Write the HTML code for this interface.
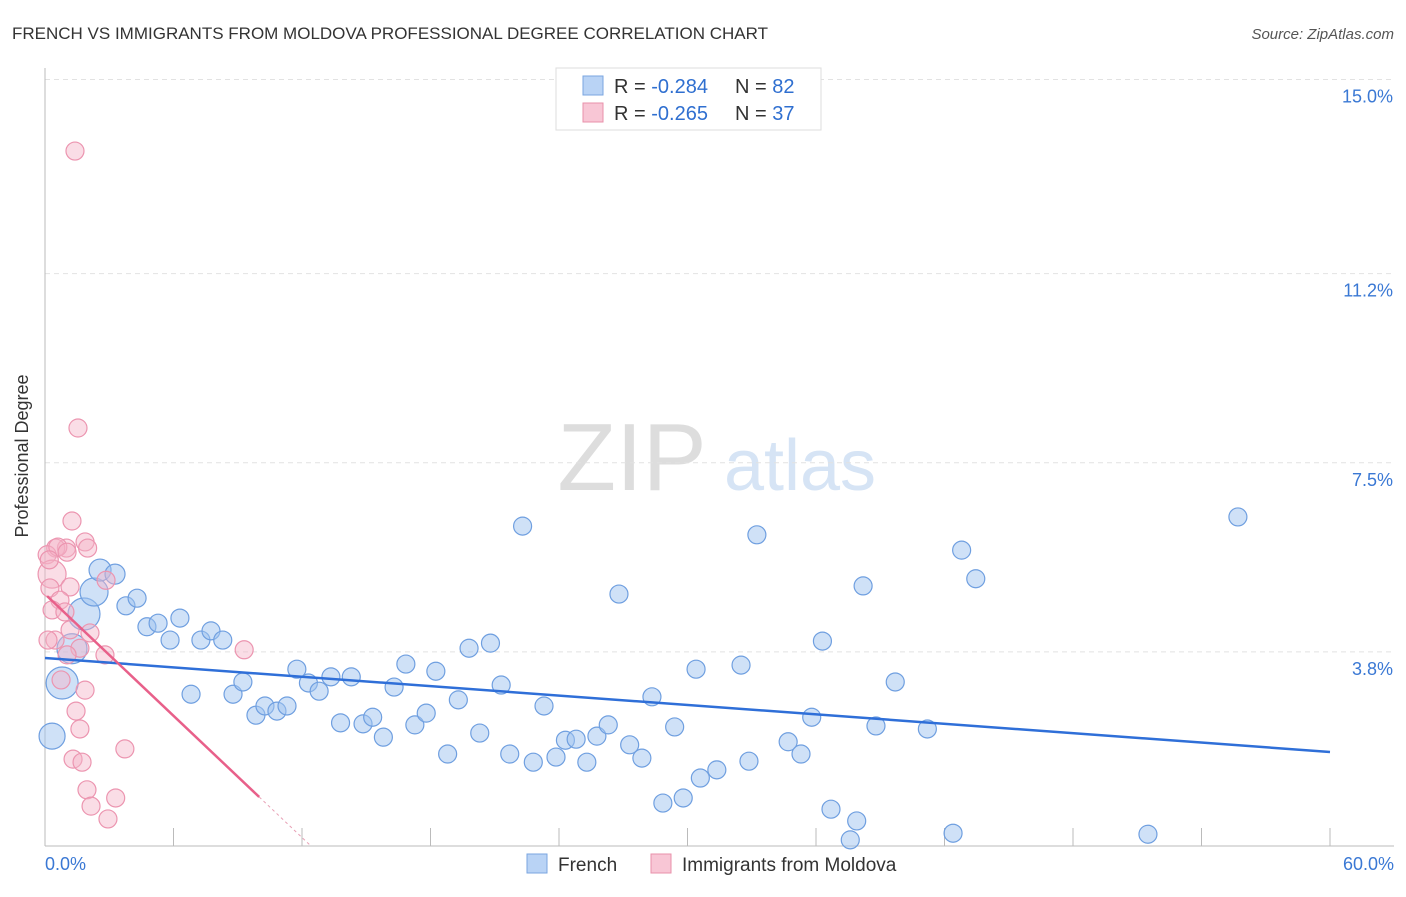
<!DOCTYPE html>
<html><head><meta charset="utf-8"><style>
body{margin:0;background:#fff;font-family:"Liberation Sans",sans-serif;}
svg text{font-family:"Liberation Sans",sans-serif;}
</style></head><body>
<svg width="1406" height="892" id="svg">
<text x="12" y="39" font-size="17" fill="#333">FRENCH VS IMMIGRANTS FROM MOLDOVA PROFESSIONAL DEGREE CORRELATION CHART</text>
<text x="1394" y="39" font-size="15" fill="#555" text-anchor="end" font-style="italic">Source: ZipAtlas.com</text>
<text x="28" y="456" font-size="18" fill="#333" text-anchor="middle" transform="rotate(-90 28 456)">Professional Degree</text>
<g>
<text x="632" y="490" font-size="96" fill="#ddd" font-family="Liberation Serif" text-anchor="middle">ZIP</text>
<text x="800" y="490" font-size="72" fill="#d6e4f5" text-anchor="middle">atlas</text>
</g>
<g id="grid"></g><g id="axes"></g><g id="pts"></g><g id="lines"></g>
<g>
<rect x="556" y="68" width="265" height="62" fill="#fff" stroke="#ddd"/>
<rect x="583" y="76" width="20" height="19" fill="#b9d3f5" stroke="#7aa6e0"/>
<text x="614" y="93" font-size="20" fill="#333">R = <tspan fill="#2f6fd0">-0.284</tspan></text>
<text x="735" y="93" font-size="20" fill="#333">N = <tspan fill="#2f6fd0">82</tspan></text>
<rect x="583" y="103" width="20" height="19" fill="#f8c6d5" stroke="#e890aa"/>
<text x="614" y="120" font-size="20" fill="#333">R = <tspan fill="#2f6fd0">-0.265</tspan></text>
<text x="735" y="120" font-size="20" fill="#333">N = <tspan fill="#2f6fd0">37</tspan></text>
</g>
<g>
<rect x="527" y="854" width="20" height="19" fill="#b9d3f5" stroke="#7aa6e0"/>
<text x="558" y="871" font-size="19" fill="#333">French</text>
<rect x="651" y="854" width="20" height="19" fill="#f8c6d5" stroke="#e890aa"/>
<text x="682" y="871" font-size="19" fill="#333">Immigrants from Moldova</text>
</g>
</svg>
<script>
const yTicks=[15.0,11.2,7.5,3.8];
const yTickLabels=["15.0%","11.2%","7.5%","3.8%"];
const xTicks=[0,6,12,18,24,30,36,42,48,54,60];
const frenchX=[0.33,0.8,1.26,1.82,2.29,2.57,3.27,3.78,4.3,4.76,5.28,5.84,6.3,6.82,7.28,7.75,8.3,8.78,9.24,9.85,10.27,10.83,11.3,11.76,12.3,12.8,13.35,13.8,14.3,14.85,15.3,15.8,16.3,16.85,17.27,17.8,18.25,18.8,19.3,19.8,20.3,20.8,21.3,21.7,22.3,22.8,23.3,23.86,24.3,24.8,25.3,25.77,26.3,26.8,27.3,27.87,28.34,28.85,29.4,29.8,30.4,30.6,31.37,32.5,32.87,33.24,34.7,35.3,35.8,36.3,36.7,37.6,37.9,38.2,38.8,39.7,41.2,42.4,42.8,43.46,51.5,55.7];
const frenchY=[2.15,3.19,3.86,4.54,4.97,5.40,5.32,4.70,4.85,4.29,4.36,4.03,4.46,2.97,4.03,4.21,4.03,2.97,3.21,2.56,2.74,2.64,2.74,3.46,3.19,3.03,3.31,2.41,3.31,2.39,2.52,2.13,3.11,3.56,2.37,2.6,3.42,1.8,2.86,3.87,2.21,3.97,3.15,1.8,6.26,1.64,2.74,1.74,2.07,2.09,1.64,2.15,2.37,4.93,1.98,1.72,2.92,0.84,2.33,0.94,3.46,1.33,1.49,3.54,1.66,6.09,2.04,1.8,2.52,4.01,0.72,0.12,0.49,5.09,2.35,3.21,2.29,0.25,5.79,5.23,0.23,6.44];
const frenchR=[13,16,15,16,14,11,10,9,9,9,9,9,9,9,9,9,9,9,9,9,9,9,9,9,9,9,9,9,9,9,9,9,9,9,9,9,9,9,9,9,9,9,9,9,9,9,9,9,9,9,9,9,9,9,9,9,9,9,9,9,9,9,9,9,9,9,9,9,9,9,9,9,9,9,9,9,9,9,9,9,9,9];
const moldX=[1.4,1.54,1.26,1.87,1.0,0.5,0.1,0.6,0.33,0.23,1.17,0.7,0.33,0.93,0.47,1.17,2.1,1.63,2.8,1.03,0.75,1.87,1.45,1.63,1.31,1.73,1.96,2.15,3.3,2.94,3.73,9.3,2.85,1.03,1.99,0.14,0.2];
const moldY=[13.6,8.18,6.36,5.95,5.83,5.83,5.7,5.85,5.32,5.05,5.07,4.81,4.62,4.58,4.03,4.23,4.17,3.87,3.74,3.74,3.25,3.05,2.64,2.29,1.70,1.64,1.10,0.78,0.94,0.53,1.9,3.84,5.2,5.75,5.83,4.03,5.6];
const moldR=[9,9,9,9,9,9,9,9,14,9,9,9,9,9,9,9,9,9,9,9,9,9,9,9,9,9,9,9,9,9,9,9,9,9,9,9,9];
const frenchTrend=[3.68,1.84];
const moldA=4.93, moldB=-0.397;
const X=v=>45+v*1285/60, Y=v=>846-v*51.1;
const NS="http://www.w3.org/2000/svg";
function mk(tag,attrs,parent){const e=document.createElementNS(NS,tag);for(const k in attrs)e.setAttribute(k,attrs[k]);document.getElementById(parent).appendChild(e);return e;}
yTicks.forEach((t,i)=>{
 const l=mk('line',{x1:45,x2:1394,y1:Y(t),y2:Y(t),stroke:'#e2e2e2','stroke-dasharray':'5,4'},'grid');
 
 
 const tx=mk('text',{x:1393,y:Y(t)+23,'font-size':18,fill:'#3a78d4','text-anchor':'end'},'grid');tx.textContent=yTickLabels[i];
 
 
});
let a=mk('line',{x1:45,x2:45,y1:68,y2:846,stroke:'#bbb'},'axes');


a=mk('line',{x1:45,x2:1394,y1:846,y2:846,stroke:'#bbb'},'axes');


xTicks.forEach(t=>{const l=mk('line',{x1:X(t),x2:X(t),y1:828,y2:846,stroke:'#bbb'},'axes');
 
 });
let t0=mk('text',{x:45,y:870,'font-size':18,fill:'#3a78d4'},'axes');t0.textContent='0.0%';


t0=mk('text',{x:1394,y:870,'font-size':18,fill:'#3a78d4','text-anchor':'end'},'axes');t0.textContent='60.0%';


frenchX.forEach((x,i)=>{const c=mk('circle',{cx:X(x),cy:Y(frenchY[i]),r:frenchR[i],fill:'rgba(160,195,240,0.5)',stroke:'#6f9fe0','stroke-width':1.2},'pts');
 
 });
moldX.forEach((x,i)=>{const c=mk('circle',{cx:X(x),cy:Y(moldY[i]),r:moldR[i],fill:'rgba(245,180,200,0.45)',stroke:'#ec95b0','stroke-width':1.2},'pts');
 
 });
let l=mk('line',{x1:X(0),y1:Y(frenchTrend[0]),x2:X(60),y2:Y(frenchTrend[1]),stroke:'#2f6fd8','stroke-width':2.5},'lines');


l=mk('line',{x1:X(0.1),y1:Y(moldA+moldB*0.1),x2:X(10),y2:Y(moldA+moldB*10),stroke:'#e8608a','stroke-width':2.5},'lines');


l=mk('line',{x1:X(10),y1:Y(moldA+moldB*10),x2:X(12.4),y2:Y(moldA+moldB*12.4),stroke:'#e8a0b5','stroke-width':1,'stroke-dasharray':'3,3'},'lines');


</script>
</body></html>
